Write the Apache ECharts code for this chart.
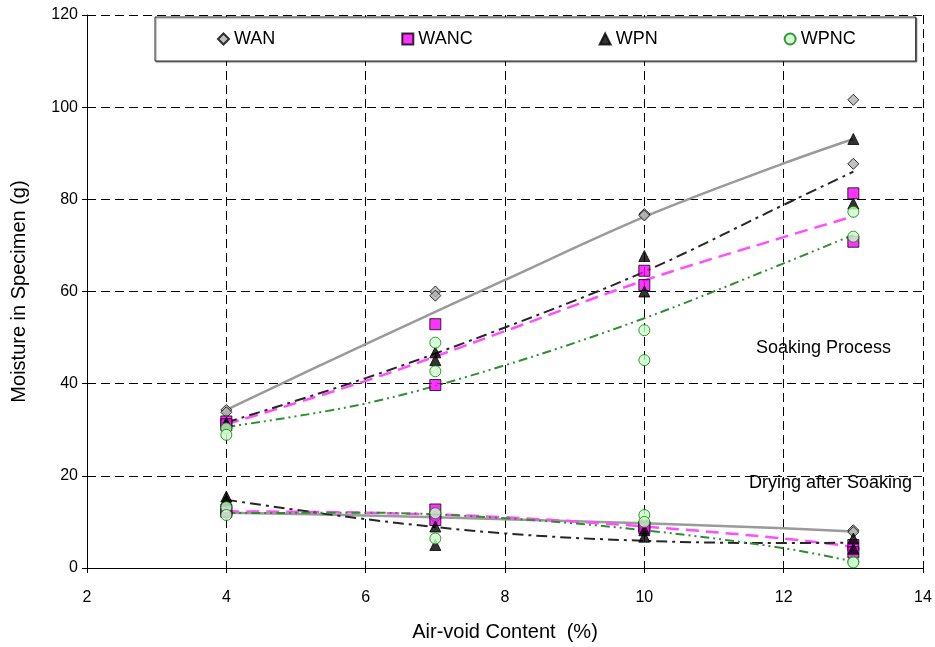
<!DOCTYPE html>
<html>
<head>
<meta charset="utf-8">
<script src="https://cdn.jsdelivr.net/npm/echarts@6/dist/echarts.min.js"></script>
<style>
  html, body { margin: 0; padding: 0; background: #fff; }
  #chart { width: 935px; height: 647px; }
</style>
</head>
<body>
<div id="chart"></div>
<script>
// Air-void content of each specimen (two replicates per level)
const airVoid = [4, 4, 7, 7, 10, 10, 13, 13];

// Moisture after soaking (g)
const wanSoak  = [34.3, 33.8, 60.0, 59.1, 76.8, 76.5, 101.6, 87.7];
const wancSoak = [31.8, 31.2, 52.9, 39.7, 64.5, 61.4, 81.3, 70.8];
const wpnSoak  = [31.5, 31.0, 46.8, 45.1, 67.7, 60.0, 93.1, 79.1];
const wpncSoak = [30.3, 28.9, 48.9, 42.7, 51.6, 45.1, 77.3, 71.9];

// Moisture remaining after drying (g)
const wanDry  = [12.0, 11.8, 11.2, 10.8, 9.8, 9.6, 8.2, 7.8];
const wancDry = [12.6, 12.2, 12.7, 10.4, 9.0, 8.6, 5.0, 3.4];
const wpnDry  = [15.5, 14.8, 9.0, 5.0, 8.2, 6.8, 6.4, 4.2];
const wpncDry = [13.2, 11.5, 11.9, 6.4, 11.5, 10.0, 1.4, 1.2];

// Trend curves sampled along the air-void range
const trendX = [4, 6, 8, 10, 12, 13];
const wanSoakFit  = [34.3, 48.6, 62.5, 76.2, 87.8, 93.1];
const wancSoakFit = [31.2, 40.6, 51.4, 62.4, 71.8, 76.3];
const wpnSoakFit  = [31.6, 41.2, 52.2, 64.3, 78.8, 86.0];
const wpncSoakFit = [30.6, 35.7, 44.0, 54.2, 66.1, 72.3];
const wanDryFit  = [12.0, 11.4, 10.6, 9.7, 8.6, 7.9];
const wancDryFit = [12.3, 12.0, 11.0, 9.0, 6.4, 4.6];
const wpnDryFit  = [14.8, 10.6, 7.5, 5.9, 5.4, 5.5];
const wpncDryFit = [11.9, 12.0, 10.8, 8.2, 4.3, 1.4];

const seriesNames = ['WAN', 'WANC', 'WPN', 'WPNC'];
const xTicks = [2, 4, 6, 8, 10, 12, 14];
const yTicks = [0, 20, 40, 60, 80, 100, 120];

const FONT = 'Liberation Sans, Arial, sans-serif';

const pair = (xs, ys) => xs.map((x, i) => [x, ys[i]]);

const markerStyles = {
  WAN:  { symbol: 'diamond',  size: [11, 11], itemStyle: { color: '#b2b2b2', borderColor: '#000', borderWidth: 1 } },
  WANC: { symbol: 'rect',     size: [11, 11], itemStyle: { color: '#ff00ff', borderColor: '#000', borderWidth: 1 } },
  WPN:  { symbol: 'triangle', size: [11, 11], itemStyle: { color: '#000', borderColor: '#000', borderWidth: 1 } },
  WPNC: { symbol: 'circle',   size: [11, 11], itemStyle: { color: '#ccffcc', borderColor: '#008000', borderWidth: 1 } }
};

const lineStyles = {
  WAN:  { color: '#9a9a9a', width: 2.5, type: 'solid' },
  WANC: { color: '#ff4dff', width: 2.5, type: [13, 7] },
  WPN:  { color: '#262626', width: 2, type: [11, 5, 3, 5] },
  WPNC: { color: '#2f8f2f', width: 2, type: [9, 4, 2, 4, 2, 4] }
};

const pointSets = {
  WAN:  [wanSoak, wanDry],
  WANC: [wancSoak, wancDry],
  WPN:  [wpnSoak, wpnDry],
  WPNC: [wpncSoak, wpncDry]
};
const fitSets = {
  WAN:  [wanSoakFit, wanDryFit],
  WANC: [wancSoakFit, wancDryFit],
  WPN:  [wpnSoakFit, wpnDryFit],
  WPNC: [wpncSoakFit, wpncDryFit]
};

const series = [];
// trend curves underneath the markers
seriesNames.forEach(name => {
  fitSets[name].forEach((fit, k) => {
    series.push({
      name: name + (k === 0 ? ' soaking trend' : ' drying trend'),
      type: 'line',
      data: pair(trendX, fit),
      smooth: 0.35,
      showSymbol: false,
      silent: true,
      lineStyle: lineStyles[name],
      z: 2
    });
  });
});
// measured points
seriesNames.forEach(name => {
  pointSets[name].forEach(vals => {
    series.push({
      name: name,
      type: 'scatter',
      data: pair(airVoid, vals),
      symbol: markerStyles[name].symbol,
      symbolSize: markerStyles[name].size,
      itemStyle: markerStyles[name].itemStyle,
      z: 5
    });
  });
});

const chart = echarts.init(document.getElementById('chart'), null, { renderer: 'canvas' });
chart.setOption({
  animation: false,
  backgroundColor: '#ffffff',
  textStyle: { fontFamily: FONT, color: '#000' },
  grid: { left: 87, right: 12, top: 15, bottom: 79, containLabel: false },
  legend: {
    data: seriesNames,
    left: 155,
    top: 17,
    orient: 'horizontal',
    padding: [13, 60, 13, 62],
    itemGap: 126,
    itemWidth: 11,
    itemHeight: 11,
    backgroundColor: '#ffffff',
    borderColor: '#333',
    borderWidth: 1,
    shadowColor: 'rgba(0,0,0,0.45)',
    shadowOffsetX: 1,
    shadowOffsetY: 1,
    shadowBlur: 1,
    textStyle: { fontFamily: FONT, fontSize: 18, color: '#000' }
  },
  xAxis: {
    type: 'value',
    min: xTicks[0],
    max: xTicks[xTicks.length - 1],
    interval: 2,
    name: 'Air-void Content  (%)',
    nameLocation: 'middle',
    nameGap: 54,
    nameTextStyle: { fontFamily: FONT, fontSize: 20, color: '#000' },
    axisLine: { show: true, lineStyle: { color: '#000', width: 1 } },
    axisTick: { show: true, inside: false, length: 5, lineStyle: { color: '#000' } },
    axisLabel: { fontFamily: FONT, fontSize: 16, color: '#000', margin: 22 },
    splitLine: { show: true, lineStyle: { color: '#000', width: 1, type: [9, 5] } }
  },
  yAxis: {
    type: 'value',
    min: yTicks[0],
    max: yTicks[yTicks.length - 1],
    interval: 20,
    name: 'Moisture in Specimen (g)',
    nameLocation: 'middle',
    nameGap: 58,
    nameRotate: 90,
    nameTextStyle: { fontFamily: FONT, fontSize: 20, color: '#000' },
    axisLine: { show: true, lineStyle: { color: '#000', width: 1 } },
    axisTick: { show: true, inside: false, length: 5, lineStyle: { color: '#000' } },
    axisLabel: { fontFamily: FONT, fontSize: 16, color: '#000', margin: 9 },
    splitLine: { show: true, lineStyle: { color: '#000', width: 1, type: [9, 5] } }
  },
  graphic: [
    {
      type: 'text', left: 756, top: 339,
      style: { text: 'Soaking Process', fontFamily: FONT, fontSize: 18, fill: '#000' }
    },
    {
      type: 'text', left: 749, top: 474,
      style: { text: 'Drying after Soaking', fontFamily: FONT, fontSize: 18, fill: '#000' }
    }
  ],
  series: series
});
</script>
</body>
</html>
